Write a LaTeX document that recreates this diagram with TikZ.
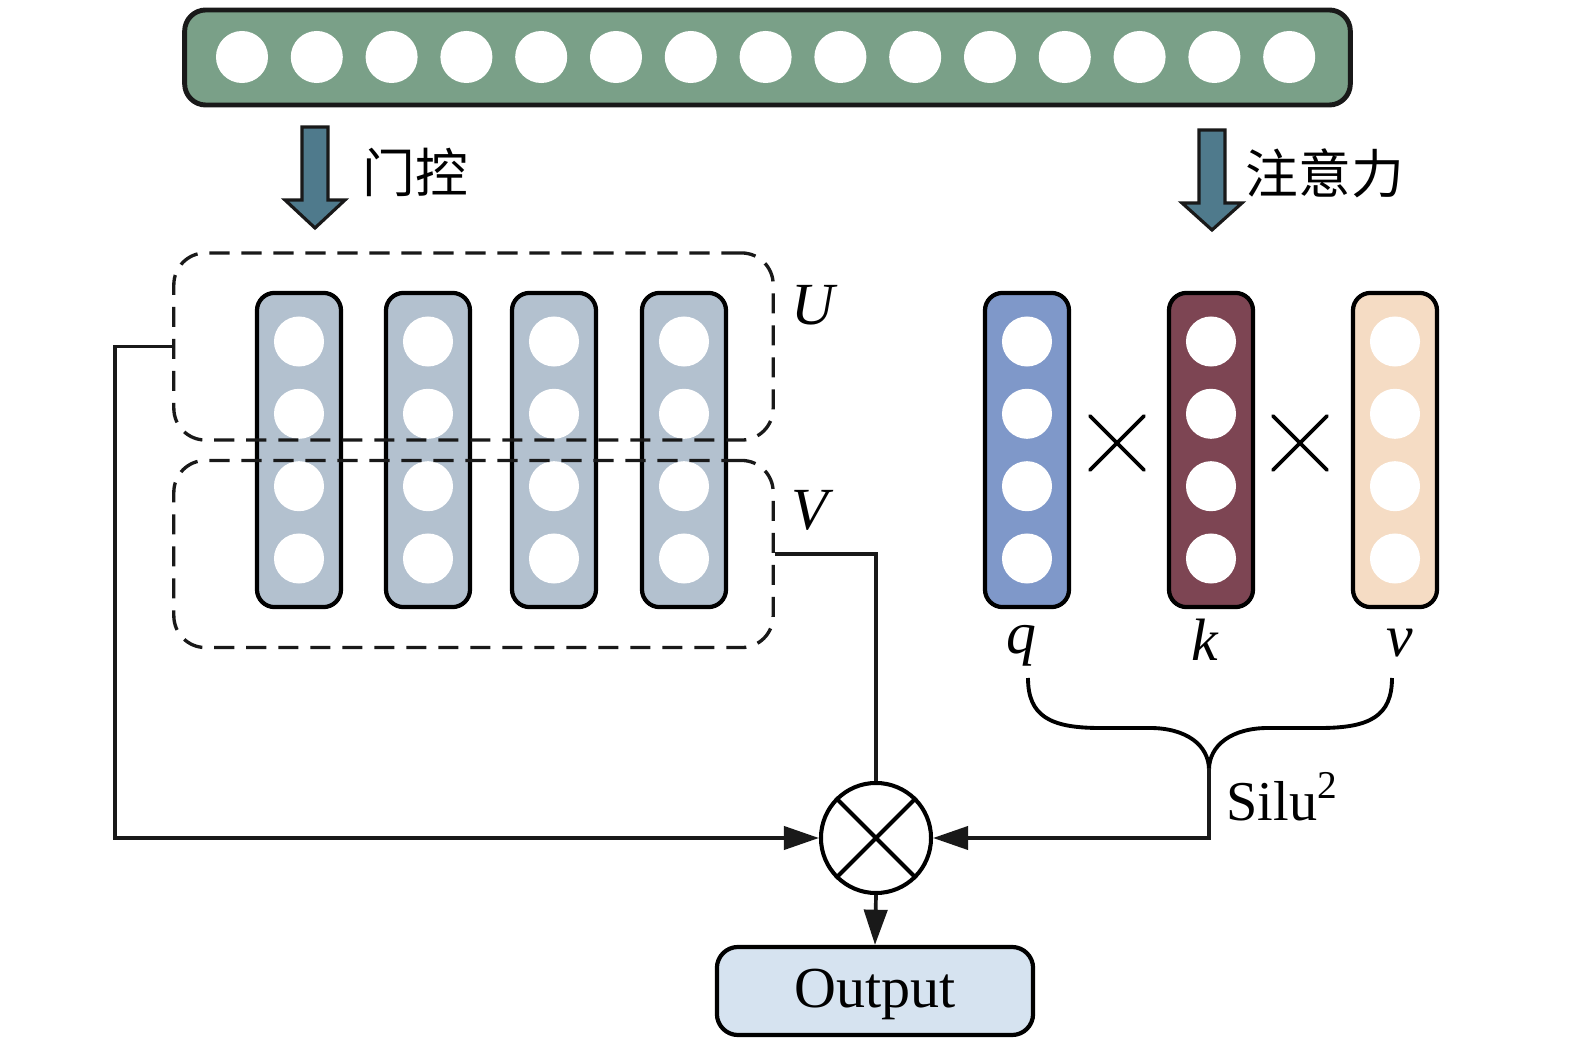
\documentclass[tikz,border=0pt]{standalone}
\usepackage{fontspec}
\setmainfont{Liberation Serif}
\newfontfamily\cjk{Noto Sans CJK SC}
\usetikzlibrary{arrows.meta,calc}
\definecolor{barg}{HTML}{7AA088}
\definecolor{colg}{HTML}{B3C1CF}
\definecolor{qcol}{HTML}{7F98C9}
\definecolor{kcol}{HTML}{7D4553}
\definecolor{vcol}{HTML}{F5DCC4}
\definecolor{outc}{HTML}{D6E3F0}
\definecolor{arrc}{HTML}{4F7A8C}
\tikzset{
  vec/.style={draw=black, line width=1.2pt, rounded corners=5pt, minimum width=0.84cm, minimum height=3.14cm, inner sep=0pt},
  dot/.style={circle, fill=white, minimum size=0.5cm, inner sep=0pt},
  dbox/.style={draw=black!90, line width=0.95pt, dash pattern=on 5.7pt off 3.4pt, rounded corners=9pt, minimum width=5.99cm, minimum height=1.87cm, inner sep=0pt},
  conn/.style={draw=black!90, line width=1.05pt},
  tip/.style={-{Triangle[length=10pt,width=6.6pt]}},
  blockarrow/.style={draw=black!90, line width=0.9pt, fill=arrc},
  lab/.style={font=\fontsize{17pt}{20pt}\selectfont\itshape, inner sep=0pt},
  cjklab/.style={font=\fontsize{15pt}{18pt}\selectfont\cjk, inner sep=0pt, anchor=west},
}
\begin{document}
\begin{tikzpicture}[x=0.01cm, y=-0.01cm]
\useasboundingbox (0,0) rectangle (1575,1046);

% top bar
\node[draw=black!90, line width=1.4pt, fill=barg, rounded corners=6pt, minimum width=11.65cm, minimum height=0.95cm, inner sep=0pt] (bar) at (767.5,57.5) {};
\foreach \i in {0,...,14} \node[dot, minimum size=0.52cm] (t\i) at ({242+\i*74.8},57) {};

% block arrows
\draw[blockarrow] (302,127) -- (328,127) -- (328,200) -- (345,200) -- (315,228) -- (285,200) -- (302,200) -- cycle;
\node[cjklab] (gate) at (362,172) {门控};
\draw[blockarrow] (1199,130) -- (1225,130) -- (1225,203) -- (1242,203) -- (1212,230) -- (1182,203) -- (1199,203) -- cycle;
\node[cjklab] (attn) at (1245,173) {注意力};

% left columns
\foreach \n/\x in {c1/299,c2/428,c3/554,c4/684} {
  \node[vec, fill=colg] (\n) at (\x,450) {};
  \foreach \j/\dy in {1/-108.5,2/-36.2,3/36.2,4/108.5}
    \node[dot] (\n d\j) at (\x,450+\dy) {};
}

% dashed groups
\node[dbox] (U) at (473.5,346.5) {};
\node[dbox] (V) at (473.5,554) {};
\node[lab] (Ulab) at (813,305) {U};
\node[lab] (Vlab) at (810,510) {V};

% q k v
\foreach \n/\x/\c in {q/1027/qcol,k/1211/kcol,v/1395/vcol} {
  \node[vec, fill=\c] (\n) at (\x,450) {};
  \foreach \j/\dy in {1/-108.5,2/-36.2,3/36.2,4/108.5}
    \node[dot] (\n d\j) at (\x,450+\dy) {};
}
\foreach \cx in {1117,1300} {
  \draw[line width=1.1pt, line cap=round] (\cx-27,443-27) -- (\cx+27,443+27);
  \draw[line width=1.1pt, line cap=round] (\cx-27,443+27) -- (\cx+27,443-27);
}
\node[lab] (qlab) at (1021,646) {q};
\node[lab] (klab) at (1205,640) {k};
\node[lab] (vlab) at (1400,643) {v};

% brace
\draw[line width=1.1pt] (1028,678) .. controls (1028,716) and (1050,728) .. (1100,728) -- (1150,728) .. controls (1186,728) and (1209,745) .. (1209,770);
\draw[line width=1.1pt] (1392,678) .. controls (1392,716) and (1370,728) .. (1320,728) -- (1268,728) .. controls (1232,728) and (1209,745) .. (1209,770);
\coordinate (bt) at (1209,768);
\node[font=\fontsize{16pt}{19pt}\selectfont, anchor=west, inner sep=0pt] (silu) at (1226,797) {Silu\textsuperscript{2}};

% multiply node
\node[circle, draw=black, line width=1.15pt, minimum size=1.1cm, inner sep=0pt] (m) at (876,838) {};
\draw[line width=1.15pt] (m.north west) -- (m.south east);
\draw[line width=1.15pt] (m.north east) -- (m.south west);

% output
\node[draw=black, line width=1.2pt, fill=outc, rounded corners=6pt, minimum width=3.16cm, minimum height=0.88cm, inner sep=0pt, text height=0.32cm, text depth=0pt, font=\fontsize{16.5pt}{19pt}\selectfont] (out) at (875,991) {Output};

% connectors
\draw[conn, tip] (U.west) -- ++(-57,0) |- (m.west);
\draw[conn] (V.east) -| (m.north);
\draw[conn, tip] (bt) |- (m.east);
\draw[conn, tip] (m.south) -- (out.north);
\end{tikzpicture}
\end{document}
